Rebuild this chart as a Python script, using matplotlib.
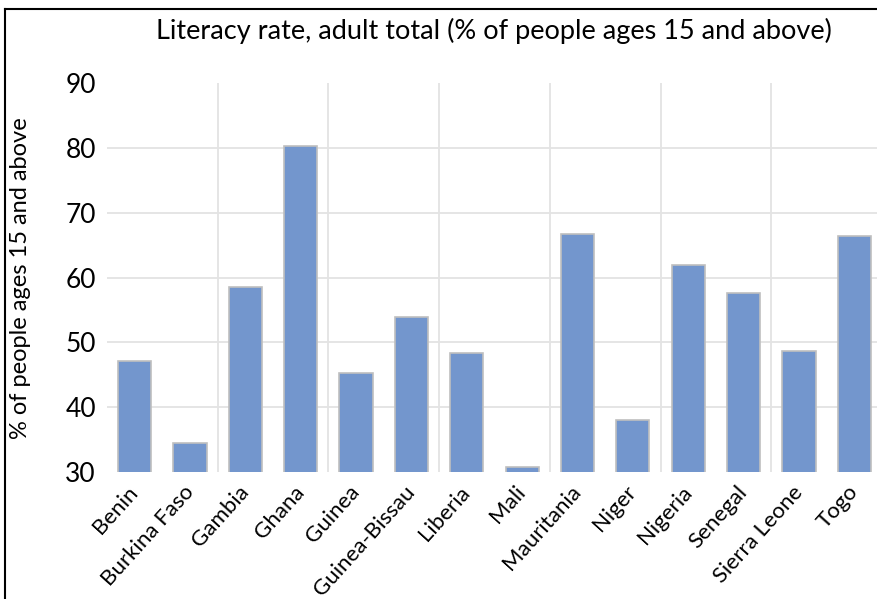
# Literacy rate bar chart
import matplotlib.pyplot as plt
from matplotlib.lines import Line2D
import numpy as np

countries = ["Benin", "Burkina Faso", "Gambia", "Ghana", "Guinea", "Guinea-Bissau",
             "Liberia", "Mali", "Mauritania", "Niger", "Nigeria", "Senegal",
             "Sierra Leone", "Togo"]
literacy = [47.1, 34.5, 58.5, 80.3, 45.3, 53.9, 48.3, 30.8, 66.8, 38.1, 62.0, 57.7, 48.6, 66.5]
yticks = [30, 40, 50, 60, 70, 80, 90]

plt.rcParams["font.family"] = ["Lato", "DejaVu Sans"]

fig = plt.figure(figsize=(8.77, 5.99), dpi=100)
ax = fig.add_axes([0.122, 0.212, 0.8837, 0.649])

x = np.arange(len(countries))
ax.bar(x, literacy, width=0.6, bottom=0, color="#7396cd", edgecolor="#bfbfbf",
       linewidth=1.2, zorder=3)

ax.set_xlim(-0.5, len(countries) - 0.5)
ax.set_ylim(30, 90)
ax.set_yticks(yticks)
ax.tick_params(axis="y", length=0, pad=8, labelsize=19)
ax.tick_params(axis="x", length=0, pad=12)
ax.set_xticks(x)
ax.set_xticklabels(countries, rotation=48, ha="right", va="center",
                   rotation_mode="anchor", fontsize=16)

# grid lines (horizontal without 30/90, vertical every two categories)
for v in yticks[1:-1]:
    ax.axhline(v, color="#e3e3e3", linewidth=1.3, zorder=1)
for k in range(2, len(countries), 2):
    ax.axvline(k - 0.5, color="#e3e3e3", linewidth=1.3, zorder=1)

for s in ax.spines.values():
    s.set_visible(False)

ax.set_ylabel("% of people ages 15 and above", fontsize=17)
ax.yaxis.set_label_coords(-0.098, 0.5)
fig.text(0.563, 0.948, "Literacy rate, adult total (% of people ages 15 and above)",
         ha="center", va="center", fontsize=19.5)

# outer frame (left and top visible)
fig.add_artist(Line2D([5 / 877, 5 / 877], [0, 1 - 9 / 599], color="black",
                      linewidth=1.5, transform=fig.transFigure))
fig.add_artist(Line2D([5 / 877, 1], [1 - 9 / 599, 1 - 9 / 599], color="black",
                      linewidth=1.5, transform=fig.transFigure))

fig.savefig("out.png", dpi=100)
